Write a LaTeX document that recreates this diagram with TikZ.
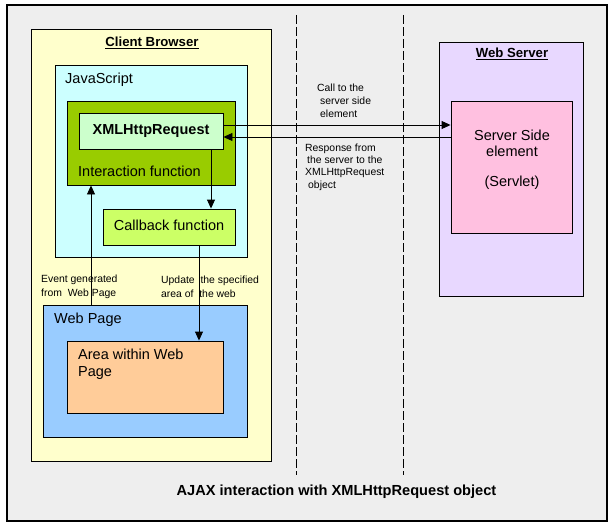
\documentclass[tikz,border=0pt]{standalone}
\usepackage{fontspec}
\setmainfont{Liberation Sans}
\usetikzlibrary{arrows.meta}
\definecolor{bgGray}{HTML}{EEEEEE}
\definecolor{cbYellow}{HTML}{FFFFCC}
\definecolor{jsCyan}{HTML}{CCFFFF}
\definecolor{ifGreen}{HTML}{99CC00}
\definecolor{xmlGreen}{HTML}{CCFFCC}
\definecolor{cbLime}{HTML}{CCFF66}
\definecolor{wpBlue}{HTML}{99CCFF}
\definecolor{areaPeach}{HTML}{FFCC99}
\definecolor{wsLav}{HTML}{E8D8FF}
\definecolor{srvPink}{HTML}{FFC0E0}
\begin{document}
\begin{tikzpicture}[x=1pt,y=-1pt,
  box/.style={draw=black, line width=0.9pt, rectangle, inner sep=0pt},
  arr/.style={-{Triangle[length=9pt,width=8pt]}, line width=0.9pt},
  big/.style={font=\fontsize{14.5}{17}\selectfont},
  bigb/.style={font=\fontsize{14.5}{17}\selectfont\bfseries},
  titleb/.style={font=\fontsize{13.2}{16}\selectfont\bfseries},
  small/.style={font=\fontsize{10.4}{13}\selectfont},
  lbl/.style={inner sep=0pt, anchor=west, align=left},
  sep/.style={line width=0.8pt, dash pattern=on 9pt off 3pt}]
\useasboundingbox[fill=white] (0,0) rectangle (613,527);
% frames
\node[box, line width=1.2pt, fill=bgGray, minimum width=600pt, minimum height=516pt] (outer) at (307,263) {};
\node[box, fill=cbYellow, minimum width=240pt, minimum height=432pt] (client) at (151,245) {};
\node[box, fill=jsCyan, minimum width=192pt, minimum height=192pt] (js) at (151,161) {};
\node[box, fill=ifGreen, minimum width=168pt, minimum height=84pt] (inter) at (151,143) {};
\node[box, fill=xmlGreen, minimum width=144pt, minimum height=36pt, bigb] (xml) at (151,131) {\raisebox{2pt}{XMLHttpRequest}};
\node[box, fill=cbLime, minimum width=132pt, minimum height=36pt, big] (cb) at (169,227) {\raisebox{3pt}{Callback function}};
\node[box, fill=wpBlue, minimum width=204pt, minimum height=132pt] (wp) at (145,371) {};
\node[box, fill=areaPeach, minimum width=156pt, minimum height=72pt] (area) at (145,377) {};
\node[box, fill=wsLav, minimum width=144pt, minimum height=254pt] (ws) at (511,169) {};
\node[box, fill=srvPink, minimum width=121pt, minimum height=132pt] (srv) at (511.5,167) {};
% separators
\coordinate (s1t) at (296,15); \coordinate (s1b) at (296,475);
\coordinate (s2t) at (403,15); \coordinate (s2b) at (403,475);
\draw[sep] (s1t) -- (s1b);
\draw[sep] (s2t) -- (s2b);
% labels
\node[titleb, inner sep=0pt] (tcb) at (152,43) {\underline{Client Browser}};
\node[titleb, inner sep=0pt] (tws) at (512,54) {\underline{Web Server}};
\node[big, lbl] (tjs) at (65,80) {JavaScript};
\node[big, lbl] (tif) at (78,171) {Interaction function};
\node[big, lbl] (twp) at (54,320) {Web Page};
\node[big, lbl] (tarea) at (78,364) {Area within Web\\Page};
\node[big, inner sep=0pt, align=center, font=\fontsize{14.5}{15.5}\selectfont] (tsrv) at (512,160) {Server Side\\element\\[15pt](Servlet)};
\node[small, lbl, font=\fontsize{10.4}{14}\selectfont] (tev) at (41,287) {Event generated\\from\ \ Web Page};
\node[small, lbl, font=\fontsize{10.4}{14}\selectfont] (tup) at (161,287) {Update\ \ the specified\\area of\ \ the web};
\node[small, lbl] (tcall) at (317,101) {Call to the\\\hspace{3pt}server side\\\hspace{3pt}element};
\node[small, lbl, font=\fontsize{10.4}{12.4}\selectfont] (tresp) at (305,167) {Response from\\\hspace{2pt}the server to the\\XMLHttpRequest\\\hspace{3pt}object};
\node[font=\fontsize{14.6}{17}\selectfont\bfseries, inner sep=0pt] (cap) at (336.5,492) {AJAX interaction with XMLHttpRequest object};
% connectors
\coordinate (xa) at (211,0);
\coordinate (ea) at (91,0);
\coordinate (ua) at (199,0);
\draw[arr] ([yshift=6pt]xml.east) -- ([yshift=6pt]srv.west |- xml.east);
\draw[arr] ([yshift=-6pt]srv.west |- xml.east) -- ([yshift=-6pt]xml.east);
\draw[arr] (xml.south -| xa) -- (cb.north -| xa);
\draw[arr] (wp.north -| ea) -- (inter.south -| ea);
\draw[arr] (cb.south -| ua) -- (area.north -| ua);
\end{tikzpicture}
\end{document}
